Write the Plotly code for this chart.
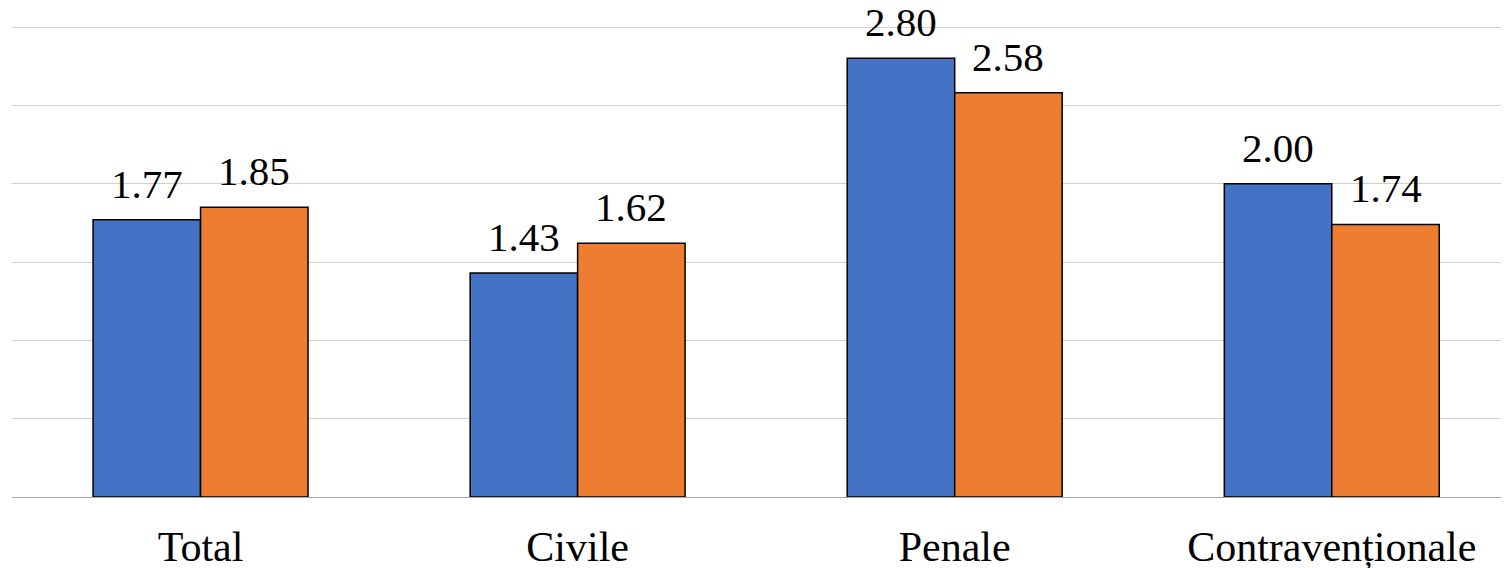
import plotly.graph_objects as go

categories = ["Total", "Civile", "Penale", "Contravenționale"]
series_a = [1.77, 1.43, 2.80, 2.00]
series_b = [1.85, 1.62, 2.58, 1.74]

FONT = "Liberation Serif"
BLUE = "#4472C4"
ORANGE = "#ED7D31"

fig = go.Figure()
fig.add_trace(go.Bar(x=categories, y=series_a, marker=dict(color=BLUE, line=dict(color="black", width=1.5)), showlegend=False))
fig.add_trace(go.Bar(x=categories, y=series_b, marker=dict(color=ORANGE, line=dict(color="black", width=1.5)), showlegend=False))

bw = 107.5
for vals, shift in ((series_a, -bw / 2), (series_b, bw / 2)):
    for c, v in zip(categories, vals):
        fig.add_annotation(x=c, y=v, text=f"{v:.2f}", showarrow=False, xshift=shift,
                           yanchor="bottom", yshift=11,
                           font=dict(family=FONT, size=41, color="black"))

# page body has an 8px default margin; figure sized to compensate
fig.update_layout(
    width=1501, height=560,
    margin=dict(l=4, r=0, t=17, b=71),
    plot_bgcolor="white", paper_bgcolor="white",
    barmode="group", bargap=0.43, bargroupgap=0,
    xaxis=dict(range=[-0.5, 3.47], showgrid=False, showline=True, linecolor="#a6a6a6", linewidth=1.3,
               ticks="", tickfont=dict(family=FONT, size=42, color="black"), ticklabelstandoff=12,
               automargin=False),
    yaxis=dict(range=[0, 3.0128], tickvals=[0.5, 1.0, 1.5, 2.0, 2.5, 3.0], showgrid=True,
               gridcolor="#d0d0d0", gridwidth=1.3,
               showticklabels=False, zeroline=False, ticks="", automargin=False),
)
fig.write_html("out.html")
